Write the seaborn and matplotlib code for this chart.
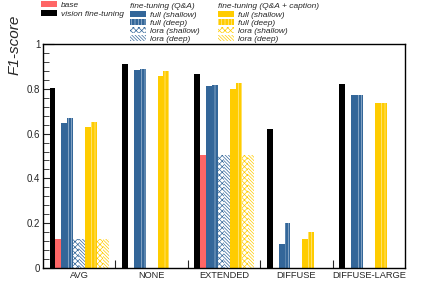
import numpy as np
import pandas as pd
import seaborn as sns
import matplotlib
matplotlib.use('Agg')
import matplotlib.pyplot as plt
from matplotlib.patches import Patch

datasets = ['AVG', 'NONE', 'EXTENDED', 'DIFFUSE', 'DIFFUSE-LARGE']
methods = ['vision fine-tuning', 'base',
           'qa full (shallow)', 'qa full (deep)', 'qa lora (shallow)', 'qa lora (deep)',
           'qac full (shallow)', 'qac full (deep)', 'qac lora (shallow)', 'qac lora (deep)']

vision = [0.805, 0.91, 0.867, 0.62, 0.823]
base = [0.128, 0.0, 0.504, 0.0, 0.0]
qa_full_shallow = [0.646, 0.884, 0.814, 0.108, 0.772]
qa_full_deep = [0.671, 0.887, 0.818, 0.200, 0.772]
qa_lora_shallow = [0.13, 0.0, 0.504, 0.0, 0.0]
qa_lora_deep = [0.13, 0.0, 0.504, 0.0, 0.0]
qac_full_shallow = [0.629, 0.857, 0.798, 0.128, 0.735]
qac_full_deep = [0.652, 0.881, 0.824, 0.160, 0.735]
qac_lora_shallow = [0.13, 0.0, 0.504, 0.0, 0.0]
qac_lora_deep = [0.13, 0.0, 0.504, 0.0, 0.0]

series = [vision, base, qa_full_shallow, qa_full_deep, qa_lora_shallow, qa_lora_deep,
          qac_full_shallow, qac_full_deep, qac_lora_shallow, qac_lora_deep]

rows = []
for m, vals in zip(methods, series):
    for d, v in zip(datasets, vals):
        rows.append({'dataset': d, 'method': m, 'f1': v})
df = pd.DataFrame(rows)

BLUE = '#336699'
YELLOW = '#ffcc00'
RED = '#ff6666'
# (face, edge/hatch color, hatch)
styles = [('black', 'black', None), (RED, RED, None),
          (BLUE, BLUE, None), (BLUE, '#a8bfd8', '|||||'), ('white', BLUE, 'xxxxxx'), ('white', BLUE, '\\' * 10),
          (YELLOW, YELLOW, None), (YELLOW, '#ffeb99', '|||||'), ('white', YELLOW, 'xxxxxx'), ('white', YELLOW, '\\' * 10)]

sns.set_style('white')
plt.rcParams['font.family'] = ['Liberation Sans', 'DejaVu Sans']
plt.rcParams['hatch.linewidth'] = 0.5

fig = plt.figure(figsize=(4.26, 2.88), dpi=100)
ax = fig.add_axes([43 / 426, 20 / 288, 362 / 426, 224 / 288])

palette = {m: s[0] for m, s in zip(methods, styles)}
sns.barplot(data=df, x='dataset', y='f1', hue='method', hue_order=methods, order=datasets,
            palette=palette, saturation=1, width=0.82, legend=False, ax=ax)

for cont, (fc, ec, h) in zip(ax.containers, styles):
    for bar in cont:
        bar.set_facecolor(fc)
        bar.set_edgecolor(ec)
        bar.set_linewidth(0)
        if h:
            bar.set_hatch(h)

ax.set_xlim(-0.5, 4.5)
ax.set_ylim(0, 1.0)
ax.set_xlabel('')
ax.set_ylabel('')
for s in ax.spines.values():
    s.set_visible(True)
    s.set_color('black')
    s.set_linewidth(1.0)

ax.set_yticks([0, 0.2, 0.4, 0.6, 0.8, 1.0])
ax.set_yticklabels(['0', '0.2', '0.4', '0.6', '0.8', '1'])
ax.set_yticks(np.arange(0, 1.0001, 0.04), minor=True)
ax.tick_params(axis='y', which='major', direction='in', length=8, width=0.8, labelsize=7, pad=2, left=True)
ax.tick_params(axis='y', which='minor', direction='in', length=4, width=0.6, left=True)
ax.set_xticks(range(len(datasets)))
ax.set_xticklabels(datasets)
ax.set_xticks([0.5, 1.5, 2.5, 3.5], minor=True)
ax.tick_params(axis='x', which='major', length=0, labelsize=6.7, pad=2)
ax.tick_params(axis='x', which='minor', direction='in', length=6, width=0.8, bottom=True)

fig.text(15 / 426, 1 - 45 / 288, 'F1-score', rotation=90, ha='center', va='center',
         fontsize=11, style='italic')

leg_kw = dict(frameon=False, handlelength=1.95, handleheight=0.75,
              handletextpad=0.45, borderpad=0, borderaxespad=0,
              prop={'style': 'italic', 'size': 6})

def patch(fc, ec, h):
    return Patch(facecolor=fc, edgecolor=ec, hatch=h, linewidth=0)

h1 = [patch(RED, RED, None), patch('black', 'black', None)]
l1 = ['base', 'vision fine-tuning']
h2 = [patch(*styles[i]) for i in range(2, 6)]
h3 = [patch(*styles[i]) for i in range(6, 10)]
l2 = ['full (shallow)', 'full (deep)', 'lora (shallow)', 'lora (deep)']

lg1 = fig.legend(h1, l1, loc='upper left', bbox_to_anchor=(41 / 426, 1 - 1 / 288),
                 labelspacing=0.1, **leg_kw)
lg2 = fig.legend(h2, l2, loc='upper left', bbox_to_anchor=(130 / 426, 1 - 3 / 288),
                 title='fine-tuning (Q&A)', alignment='left', labelspacing=0.0,
                 title_fontproperties={'style': 'italic', 'size': 6}, **leg_kw)
lg3 = fig.legend(h3, l2, loc='upper left', bbox_to_anchor=(218 / 426, 1 - 3 / 288),
                 title='fine-tuning (Q&A + caption)', alignment='left', labelspacing=0.0,
                 title_fontproperties={'style': 'italic', 'size': 6}, **leg_kw)
for lg in (lg2, lg3):
    lg._legend_box.sep = 1

fig.savefig('out.png', dpi=100)
